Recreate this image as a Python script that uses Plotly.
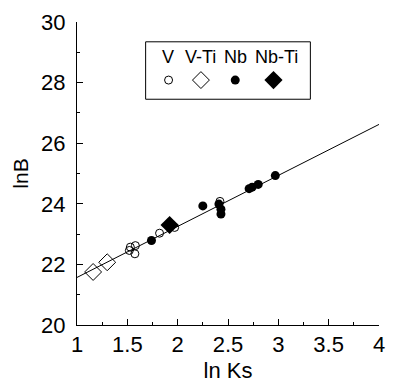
import plotly.graph_objects as go

v_x = [1.52, 1.53, 1.575, 1.58, 1.82, 1.97, 2.42]
v_y = [22.46, 22.57, 22.35, 22.62, 23.03, 23.22, 24.08]
vti_x = [1.16, 1.30]
vti_y = [21.75, 22.07]
nb_x = [1.74, 2.25, 2.41, 2.43, 2.43, 2.71, 2.74, 2.80, 2.97]
nb_y = [22.79, 23.93, 23.99, 23.82, 23.66, 24.50, 24.55, 24.64, 24.93]
nbti_x = [1.92]
nbti_y = [23.30]
fit_x = [1.0, 4.0]
fit_y = [21.57, 26.62]
labels = ["V", "V-Ti", "Nb", "Nb-Ti"]

W, H = 395, 392
L, R, T, B = 77, 10, 19, 67
pw, ph = W - L - R, H - T - B

def px(x):
    return (x - L) / pw

def py(y):
    return (H - B - y) / ph

font = dict(family="Liberation Sans, Arial, sans-serif", color="black")

fig = go.Figure()
fig.add_trace(go.Scatter(x=fit_x, y=fit_y, mode="lines",
                         line=dict(color="black", width=1), showlegend=False))
series = [
    (vti_x, vti_y, dict(symbol="diamond-open", size=13, color="black", line=dict(width=1)), "legend2"),
    (v_x, v_y, dict(symbol="circle-open", size=8, color="black", line=dict(width=1)), "legend"),
    (nb_x, nb_y, dict(symbol="circle", size=9, color="black"), "legend3"),
    (nbti_x, nbti_y, dict(symbol="diamond", size=14, color="black"), "legend4"),
]
for xs, ys, mk, lg in series:
    fig.add_trace(go.Scatter(x=xs, y=ys, mode="markers", name="", legend=lg,
                             showlegend=True, marker=mk))

fig.add_shape(type="rect", xref="paper", yref="paper",
              x0=px(147), x1=px(315), y0=py(97), y1=py(39),
              line=dict(color="black", width=1), fillcolor="white", layer="below")
label_x = [170, 203, 239, 280]
sym_x = [170, 203, 238, 277]
for lab, xx in zip(labels, label_x):
    fig.add_annotation(x=px(xx), y=py(54), xref="paper", yref="paper", text=lab,
                       xanchor="center", yanchor="middle",
                       showarrow=False, font=dict(size=18, **font))

legend_names = ["legend", "legend2", "legend3", "legend4"]
legend_layout = {}
for name, sx in zip(legend_names, sym_x):
    legend_layout[name] = dict(x=px(sx - 20), xanchor="left", y=py(63), yanchor="top",
                               orientation="h", entrywidth=1,
                               bgcolor="rgba(0,0,0,0)", borderwidth=0,
                               font=dict(size=10, **font))

axis_common = dict(showline=True, linecolor="black", linewidth=1, mirror=False,
                   ticks="inside", ticklen=6, tickcolor="black", showgrid=False,
                   zeroline=False, tickfont=dict(size=22, **font))
fig.update_xaxes(range=[1, 4], dtick=0.5, tick0=1,
                 minor=dict(dtick=0.25, ticks="inside", ticklen=3, tickcolor="black"),
                 title=dict(text="ln Ks", font=dict(size=22, **font), standoff=6),
                 ticklabelstandoff=0,
                 **axis_common)
fig.update_yaxes(range=[20, 30], dtick=2, tick0=20,
                 minor=dict(dtick=1, ticks="inside", ticklen=3, tickcolor="black"),
                 title=dict(text="lnB", font=dict(size=21, **font), standoff=6),
                 ticklabelstandoff=6,
                 **axis_common)

fig.update_layout(width=W, height=H, margin=dict(l=L, r=R, t=T, b=B),
                  plot_bgcolor="white", paper_bgcolor="white", showlegend=True,
                  **legend_layout)
fig.write_html("out.html")
